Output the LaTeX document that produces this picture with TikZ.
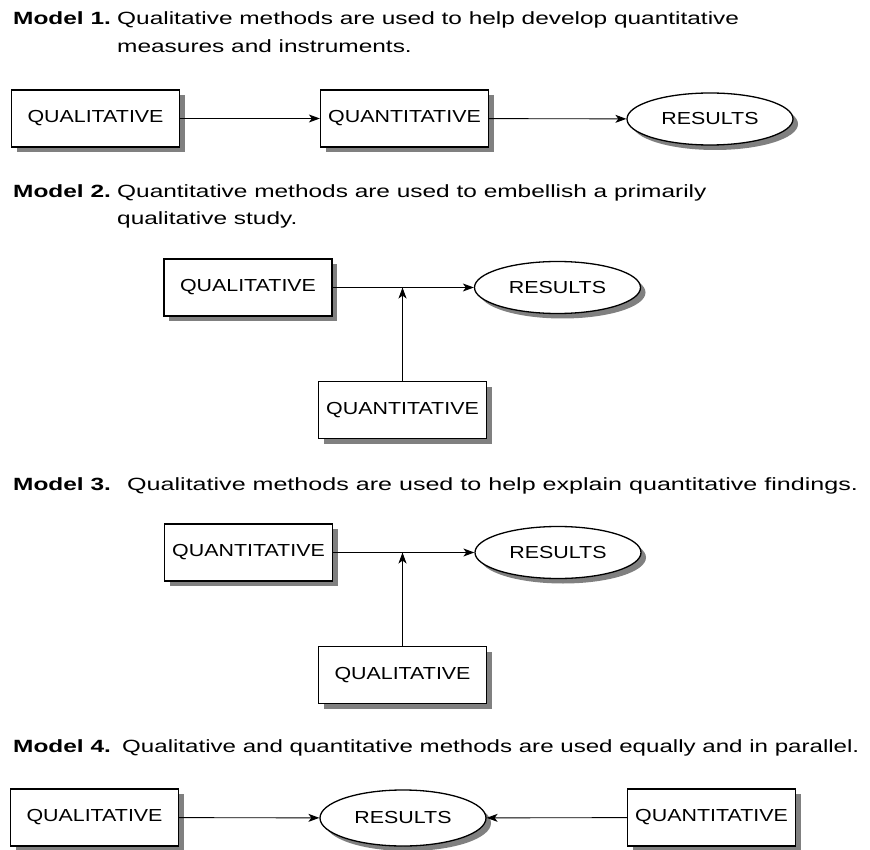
\documentclass[tikz,border=0pt]{standalone}
\usepackage{fontspec}
\setmainfont{Liberation Sans}
\newfontfamily\headfont[FakeStretch=1.38]{Liberation Sans}
\newfontfamily\boxfont[FakeStretch=1.23]{Liberation Sans}
\usetikzlibrary{shapes.geometric,shadows,arrows.meta}

\begin{document}
\begin{tikzpicture}[x=1pt,y=-1pt,
  headlabel/.style={anchor=base west,inner sep=0pt,
    font=\headfont\fontsize{17.7}{20}\selectfont\bfseries},
  headtext/.style={anchor=base west,inner sep=0pt,
    font=\headfont\fontsize{17.7}{20}\selectfont},
  shade/.style={drop shadow={shadow xshift=5pt,shadow yshift=-5pt,
    fill=black!50,opacity=1}},
  methodbox/.style={draw=black,line width=1.3pt,fill=white,shade,
    minimum width=168pt,minimum height=57pt,inner sep=0pt,
    font=\boxfont\fontsize{17.4}{20}\selectfont},
  outcome/.style={ellipse,draw=black,line width=1.3pt,fill=white,shade,
    minimum width=166pt,minimum height=52pt,inner sep=0pt,
    font=\boxfont\fontsize{17.4}{20}\selectfont},
  flow/.style={line width=0.9pt,-{Stealth[length=11pt,width=8pt,inset=3pt]}}]

\useasboundingbox (0,0) rectangle (870,850);

% ---- Model 1 ----
\node[headlabel] (h1) at (13,25) {Model 1.};
\node[headtext] (h1a) at (117,25) {Qualitative methods are used to help develop quantitative};
\node[headtext] (h1b) at (117,53) {measures and instruments.};

\node[methodbox] (m1ql) at (95.5,118.5) {QUALITATIVE};
\node[methodbox] (m1qn) at (404.5,118.5) {QUANTITATIVE};
\node[outcome] (m1r) at (710,119) {RESULTS};
\draw[flow] (m1ql) -- (m1qn);
\draw[flow] (m1qn) -- (m1r);

% ---- Model 2 ----
\node[headlabel] (h2) at (13,198) {Model 2.};
\node[headtext] (h2a) at (117,198) {Quantitative methods are used to embellish a primarily};
\node[headtext] (h2b) at (117,225) {qualitative study.};

\node[methodbox] (m2ql) at (248,287.5) {QUALITATIVE};
\node[outcome] (m2r) at (557.5,287.5) {RESULTS};
\node[methodbox] (m2qn) at (402.5,410) {QUANTITATIVE};
\coordinate (m2j) at (m2qn.north |- m2ql.east);
\draw[flow] (m2ql) -- (m2r);
\draw[flow] (m2qn) -- (m2j);

% ---- Model 3 ----
\node[headlabel] (h3) at (13,490) {Model 3.};
\node[headtext] (h3a) at (127,490)
  {\scalebox{1.027}[1]{Qualitative methods are used to help explain quantitative findings.}};

\node[methodbox] (m3qn) at (248.5,552.5) {QUANTITATIVE};
\node[outcome] (m3r) at (558,552.5) {RESULTS};
\node[methodbox] (m3ql) at (402.5,675) {QUALITATIVE};
\coordinate (m3j) at (m3ql.north |- m3qn.east);
\draw[flow] (m3qn) -- (m3r);
\draw[flow] (m3ql) -- (m3j);

% ---- Model 4 ----
\node[headlabel] (h4) at (13,752) {Model 4.};
\node[headtext] (h4a) at (122,752)
  {\scalebox{0.987}[1]{Qualitative and quantitative methods are used equally and in parallel.}};

\node[methodbox] (m4ql) at (94.5,817.5) {QUALITATIVE};
\node[outcome,minimum height=56pt] (m4r) at (403,818) {RESULTS};
\node[methodbox] (m4qn) at (711.5,817.5) {QUANTITATIVE};
\draw[flow] (m4ql) -- (m4r);
\draw[flow] (m4qn) -- (m4r);

\end{tikzpicture}
\end{document}
